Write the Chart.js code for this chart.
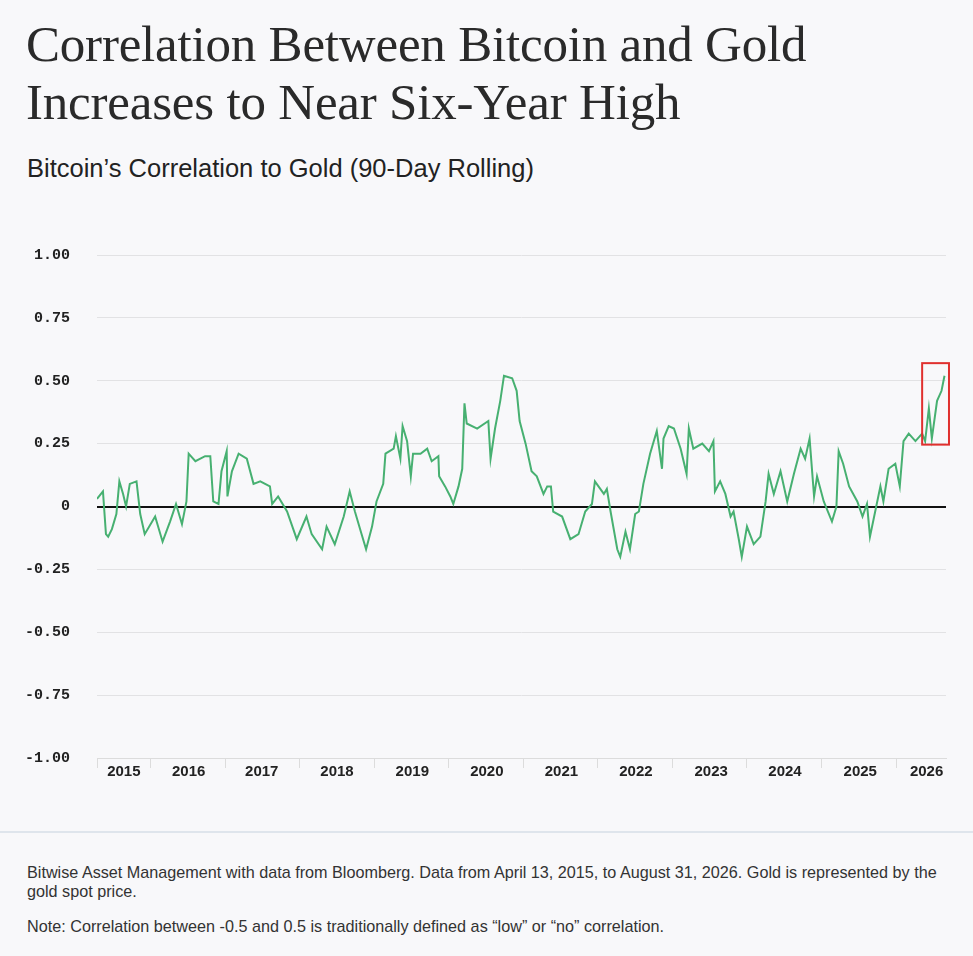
<!DOCTYPE html>
<html><head><meta charset="utf-8">
<script src="https://cdn.jsdelivr.net/npm/chart.js@4"></script>
<style>
body{margin:0;background:#f8f8fa;width:973px;height:956px;position:relative;overflow:hidden;font-family:"Liberation Sans",Arial,sans-serif;color:#222}
#t{position:absolute;left:26px;top:15px;font-family:"Liberation Serif",serif;font-size:51px;line-height:58px;color:#2a2a2a;font-weight:normal;margin:0;letter-spacing:-0.2px}
#st{position:absolute;left:27px;top:154px;font-size:25.5px;color:#222}
#wrap{position:absolute;left:0;top:219px;width:973px;height:581px}
#sep{position:absolute;left:0;top:831px;width:973px;height:2px;background:#dfe5ec}
#f1{position:absolute;left:27px;top:863px;width:925px;font-size:16.2px;line-height:19px;color:#333}
#f2{position:absolute;left:27px;top:917px;font-size:16.2px;color:#333}
</style></head><body>
<h1 id="t">Correlation Between Bitcoin and Gold<br>Increases to Near Six-Year High</h1>
<div id="st">Bitcoin’s Correlation to Gold (90-Day Rolling)</div>
<div id="wrap"><canvas id="c"></canvas></div>
<div id="sep"></div>
<div id="f1">Bitwise Asset Management with data from Bloomberg. Data from April 13, 2015, to August 31, 2026. Gold is represented by the gold spot price.</div>
<div id="f2">Note: Correlation between -0.5 and 0.5 is traditionally defined as “low” or “no” correlation.</div>
<script>
const dates=[2015.28,2015.36,2015.40,2015.43,2015.48,2015.54,2015.58,2015.63,2015.67,2015.72,2015.81,2015.86,2015.92,2016.06,2016.16,2016.26,2016.34,2016.42,2016.48,2016.51,2016.60,2016.73,2016.80,2016.84,2016.91,2016.95,2017.02,2017.03,2017.09,2017.18,2017.29,2017.38,2017.47,2017.60,2017.63,2017.71,2017.83,2017.96,2018.09,2018.16,2018.30,2018.36,2018.47,2018.59,2018.67,2018.74,2018.83,2018.89,2018.97,2019.03,2019.12,2019.15,2019.26,2019.29,2019.35,2019.38,2019.44,2019.49,2019.52,2019.62,2019.71,2019.77,2019.86,2019.87,2019.95,2020.02,2020.06,2020.13,2020.18,2020.21,2020.24,2020.38,2020.53,2020.56,2020.62,2020.69,2020.74,2020.85,2020.91,2020.95,2021.03,2021.11,2021.18,2021.27,2021.32,2021.37,2021.40,2021.52,2021.63,2021.74,2021.83,2021.92,2021.96,2022.08,2022.12,2022.17,2022.26,2022.30,2022.37,2022.43,2022.50,2022.55,2022.61,2022.70,2022.79,2022.86,2022.88,2022.95,2023.02,2023.11,2023.19,2023.22,2023.28,2023.40,2023.49,2023.55,2023.57,2023.64,2023.71,2023.78,2023.82,2023.89,2023.93,2024.00,2024.09,2024.18,2024.25,2024.29,2024.36,2024.45,2024.54,2024.63,2024.72,2024.78,2024.84,2024.90,2024.94,2025.03,2025.14,2025.20,2025.23,2025.29,2025.37,2025.48,2025.55,2025.61,2025.65,2025.72,2025.79,2025.83,2025.90,2025.99,2026.05,2026.10,2026.17,2026.26,2026.35,2026.39,2026.44,2026.48,2026.55,2026.61,2026.65];
const correlation=[0.03,0.06,-0.11,-0.12,-0.09,-0.03,0.10,0.05,0.00,0.09,0.10,-0.03,-0.11,-0.04,-0.14,-0.06,0.01,-0.07,0.02,0.21,0.18,0.20,0.20,0.02,0.01,0.14,0.22,0.04,0.14,0.21,0.19,0.09,0.10,0.08,0.01,0.04,-0.02,-0.13,-0.04,-0.11,-0.17,-0.08,-0.15,-0.04,0.06,-0.02,-0.11,-0.17,-0.08,0.02,0.09,0.21,0.23,0.28,0.19,0.32,0.26,0.12,0.21,0.21,0.23,0.18,0.20,0.12,0.08,0.04,0.01,0.08,0.15,0.41,0.33,0.31,0.34,0.19,0.31,0.42,0.52,0.51,0.46,0.34,0.25,0.14,0.12,0.05,0.08,0.08,-0.02,-0.04,-0.13,-0.11,-0.02,0.01,0.10,0.05,0.07,-0.02,-0.17,-0.20,-0.10,-0.17,-0.03,-0.02,0.09,0.21,0.30,0.15,0.27,0.32,0.31,0.23,0.13,0.31,0.23,0.25,0.22,0.26,0.06,0.10,0.05,-0.04,-0.02,-0.13,-0.20,-0.08,-0.15,-0.12,0.02,0.13,0.05,0.14,0.02,0.13,0.23,0.19,0.27,0.04,0.12,0.02,-0.06,0.00,0.22,0.17,0.08,0.02,-0.04,0.01,-0.12,-0.02,0.08,0.02,0.15,0.17,0.08,0.26,0.29,0.26,0.29,0.26,0.39,0.27,0.42,0.46,0.52];
const yearLabels=['2015','2016','2017','2018','2019','2020','2021','2022','2023','2024','2025','2026'];
const labelPositions=[2015.64,2016.51,2017.49,2018.50,2019.51,2020.51,2021.51,2022.51,2023.52,2024.51,2025.52,2026.41];
const yearBoundaries=[2015.28,2016,2017,2018,2019,2020,2021,2022,2023,2024,2025,2026];
const yTicks=[-1,-0.75,-0.5,-0.25,0,0.25,0.5,0.75,1];
const yTickLabels=['-1.00','-0.75','-0.50','-0.25','0','0.25','0.50','0.75','1.00'];
const highlight={x0:2026.35,x1:2026.71,y0:0.246,y1:0.57};

const boxPlugin={id:'box',afterDatasetsDraw(ch){
  const x=ch.scales.x,y=ch.scales.y,c=ch.ctx;
  c.save();c.strokeStyle='#e0302e';c.lineWidth=2;
  const l=x.getPixelForValue(highlight.x0),r=x.getPixelForValue(highlight.x1);
  const t=y.getPixelForValue(highlight.y1),b=y.getPixelForValue(highlight.y0);
  c.strokeRect(l,t,r-l,b-t);c.restore();}};

new Chart(document.getElementById('c'),{
  type:'line',
  data:{datasets:[{data:dates.map((d,i)=>({x:d,y:correlation[i]})),borderColor:'#47b071',borderWidth:2,pointRadius:0,tension:0}]},
  options:{responsive:true,maintainAspectRatio:false,animation:false,
    layout:{padding:{top:14,right:27,left:0,bottom:0}},
    plugins:{legend:{display:false},tooltip:{enabled:false}},
    scales:{
      x:{type:'linear',min:2015.28,max:2026.67,
        afterBuildTicks(a){a.ticks=[...yearBoundaries.map(v=>({value:v,b:1})),...labelPositions.map(v=>({value:v}))].sort((p,q)=>p.value-q.value);},
        afterFit(a){a.height=42;},
        border:{display:true,color:'#dcdcdc',width:1},
        grid:{drawOnChartArea:false,tickLength:10,color:c=>c.tick&&c.tick.b?'#dcdcdc':'rgba(0,0,0,0)'},
        ticks:{autoSkip:false,maxRotation:0,padding:-5,color:'#222',font:{family:'"Liberation Sans",Arial',size:15,weight:'bold'},
          callback(v){const i=labelPositions.indexOf(v);return i>=0?yearLabels[i]:'';}}},
      y:{min:-1,max:1,
        afterBuildTicks(a){a.ticks=yTicks.map(v=>({value:v}));},
        afterFit(a){a.width=97;},
        border:{display:false},
        grid:{drawTicks:false,color:c=>c.tick.value===0?'#111':(c.tick.value===-1?'rgba(0,0,0,0)':'#e2e2e4'),lineWidth:c=>c.tick.value===0?2:1},
        ticks:{padding:27,color:'#222',font:{family:'"Liberation Mono","DejaVu Sans Mono",monospace',size:15,weight:'bold'},
          callback(v){return yTickLabels[yTicks.indexOf(v)];}}}
    }},
  plugins:[boxPlugin]
});
</script>
</body></html>
